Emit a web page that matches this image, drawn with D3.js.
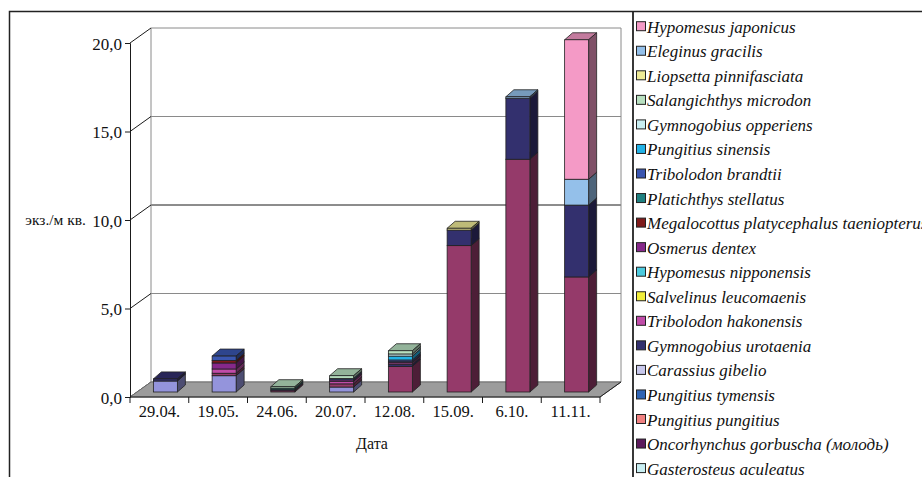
<!DOCTYPE html>
<html>
<head>
<meta charset="utf-8">
<script src="https://cdn.jsdelivr.net/npm/d3@7/dist/d3.min.js"></script>
<style>
  html, body { margin: 0; padding: 0; background: #fff; }
  svg { display: block; }
  text { font-family: "Liberation Serif", "Times New Roman", serif; fill: #111; }
</style>
</head>
<body>
<svg id="chart" width="922" height="477"></svg>
<script>
// Sampling dates
const categories = ["29.04.", "19.05.", "24.06.", "20.07.", "12.08.", "15.09.", "6.10.", "11.11."];

// Species in stacking order (bottom of each column first).
// The first two series have no legend row inside the frame.
const seriesNames = [
  null,
  null,
  "Gasterosteus aculeatus",
  "Oncorhynchus gorbuscha (молодь)",
  "Pungitius pungitius",
  "Pungitius tymensis",
  "Carassius gibelio",
  "Gymnogobius urotaenia",
  "Tribolodon hakonensis",
  "Salvelinus leucomaenis",
  "Hypomesus nipponensis",
  "Osmerus dentex",
  "Megalocottus platycephalus taeniopterus",
  "Platichthys stellatus",
  "Tribolodon brandtii",
  "Pungitius sinensis",
  "Gymnogobius opperiens",
  "Salangichthys microdon",
  "Liopsetta pinnifasciata",
  "Eleginus gracilis",
  "Hypomesus japonicus"
];

const seriesColors = [
  "#9494dc", "#953a6a", "#c8eef2", "#5c1a5c", "#f08080", "#2f64b4", "#c8c8ec",
  "#33306e", "#c04ca8", "#f2ee3a", "#4ccade", "#86288a", "#7e1a1a", "#1f8080",
  "#3a56b0", "#22b2e6", "#c8eef2", "#b8e0c0", "#eeea96", "#94c0ea", "#f49ac6"
];

// Density, ind./m², one row per species, one value per date
const seriesValues = [
  [0.62, 0.92, 0,    0.28, 0,    0,    0,     0   ],
  [0,    0.14, 0.07, 0.18, 1.45, 8.27, 13.15, 6.50],
  [0,    0,    0,    0,    0,    0,    0,     0   ],
  [0,    0,    0,    0,    0,    0,    0,     0   ],
  [0,    0,    0,    0,    0,    0,    0,     0   ],
  [0,    0,    0,    0,    0,    0,    0,     0   ],
  [0,    0,    0,    0,    0,    0,    0,     0   ],
  [0.12, 0,    0,    0,    0.12, 0.88, 3.45,  4.06],
  [0,    0.24, 0,    0.15, 0.08, 0,    0,     0   ],
  [0,    0,    0,    0,    0,    0,    0,     0   ],
  [0,    0,    0,    0,    0,    0,    0,     0   ],
  [0,    0.34, 0.06, 0.08, 0.06, 0,    0,     0   ],
  [0,    0.14, 0,    0,    0,    0,    0,     0   ],
  [0,    0,    0.09, 0,    0,    0,    0,     0   ],
  [0,    0.25, 0,    0.08, 0.10, 0,    0,     0   ],
  [0,    0,    0,    0,    0.22, 0,    0,     0   ],
  [0,    0,    0,    0,    0.12, 0,    0,     0   ],
  [0,    0,    0.08, 0.15, 0.18, 0,    0,     0   ],
  [0,    0,    0,    0,    0,    0.10, 0,     0   ],
  [0,    0,    0,    0,    0,    0,    0.08,  1.46],
  [0,    0,    0,    0,    0,    0,    0,     7.88]
];

const yTicks = [0, 5, 10, 15, 20];
const yTickLabels = ["0,0", "5,0", "10,0", "15,0", "20,0"];
const yTitle = "экз./м кв.";
const xTitle = "Дата";

// ---- layout ----
const svg = d3.select("#chart");
const plotLeft = 130, plotRight = 600, plotBottom = 397, plotTop = 43;
const wall = { dx: 21, dy: -15 };        // depth of floor / walls
const barOff = { dx: 6, dy: -5 };        // column front face inside the floor
const barDepth = { dx: 8, dy: -7 };      // column thickness
const barW = 24;

const x = d3.scaleBand().domain(categories).range([plotLeft, plotRight]).padding(0);
const y = d3.scaleLinear().domain([0, 20]).range([plotBottom, plotTop]);

// Frame and legend box edges
svg.append("path").attr("d", "M9.5,477 V11.5 H922")
  .attr("fill", "none").attr("stroke", "#222").attr("stroke-width", 1.5);
svg.append("line").attr("x1", 633).attr("x2", 633).attr("y1", 11).attr("y2", 477)
  .attr("stroke", "#222").attr("stroke-width", 1.8);

// Back wall gridlines
const g = svg.append("g");
g.selectAll("line.grid").data(yTicks).join("line")
  .attr("class", "grid")
  .attr("x1", plotLeft + wall.dx).attr("x2", plotRight + wall.dx)
  .attr("y1", d => y(d) + wall.dy).attr("y2", d => y(d) + wall.dy)
  .attr("stroke", d => d === 10 ? "#1a1a1a" : "#8a8a8a").attr("stroke-width", 1);
// Back wall side edges
[plotLeft + wall.dx, plotRight + wall.dx].forEach(xx => {
  g.append("line").attr("x1", xx).attr("x2", xx)
    .attr("y1", y(0) + wall.dy).attr("y2", y(20) + wall.dy)
    .attr("stroke", "#8a8a8a");
});
// Side wall diagonals
g.selectAll("line.diag").data(yTicks).join("line")
  .attr("class", "diag")
  .attr("x1", plotLeft).attr("y1", d => y(d))
  .attr("x2", plotLeft + wall.dx).attr("y2", d => y(d) + wall.dy)
  .attr("stroke", "#1a1a1a").attr("stroke-width", 1);

// Floor
g.append("path")
  .attr("d", `M${plotLeft},${y(0)} L${plotRight},${y(0)} L${plotRight + wall.dx},${y(0) + wall.dy} L${plotLeft + wall.dx},${y(0) + wall.dy} Z`)
  .attr("fill", "#9c9c9c").attr("stroke", "#6e6e6e").attr("stroke-width", 1);
g.append("path")
  .attr("d", `M${plotLeft},${y(0)} L${plotRight},${y(0)} L${plotRight + wall.dx},${y(0) + wall.dy}`)
  .attr("fill", "none").attr("stroke", "#222").attr("stroke-width", 1);

// Stacked data
const stackData = categories.map((c, i) => {
  const o = { cat: c };
  seriesValues.forEach((vals, s) => { o["s" + s] = vals[i]; });
  return o;
});
const keys = seriesValues.map((_, s) => "s" + s);
const stacked = d3.stack().keys(keys)(stackData);

function shade(c, k) {
  const r = d3.rgb(c);
  return d3.rgb(r.r * k, r.g * k, r.b * k).formatHex();
}

const bars = svg.append("g");
categories.forEach((cat, ci) => {
  const xl = x(cat) + x.bandwidth() / 2 - barW / 2 + barOff.dx;
  const xr = xl + barW;
  const gc = bars.append("g");
  stacked.forEach((layer, s) => {
    const [v0, v1] = layer[ci];
    if (v1 - v0 <= 0) return;
    const yb = y(v0) + barOff.dy, yt = y(v1) + barOff.dy;
    const col = seriesColors[s];
    // top face
    gc.append("path")
      .attr("d", `M${xl},${yt} L${xl + barDepth.dx},${yt + barDepth.dy} L${xr + barDepth.dx},${yt + barDepth.dy} L${xr},${yt} Z`)
      .attr("fill", shade(col, 0.8)).attr("stroke", "#222").attr("stroke-width", 0.8);
    // side face
    gc.append("path")
      .attr("d", `M${xr},${yb} L${xr + barDepth.dx},${yb + barDepth.dy} L${xr + barDepth.dx},${yt + barDepth.dy} L${xr},${yt} Z`)
      .attr("fill", shade(col, 0.52)).attr("stroke", "#222").attr("stroke-width", 0.8);
    // front face
    gc.append("rect")
      .attr("x", xl).attr("y", yt).attr("width", barW).attr("height", yb - yt)
      .attr("fill", col).attr("stroke", "#222").attr("stroke-width", 0.8);
  });
});

// Y axis (front)
const yAxis = svg.append("g").attr("transform", `translate(${plotLeft},0)`)
  .call(d3.axisLeft(y).tickValues(yTicks).tickSize(5).tickPadding(3)
    .tickFormat((d, i) => yTickLabels[i]));
yAxis.select(".domain").attr("stroke", "#1a1a1a");
yAxis.selectAll(".tick line").attr("stroke", "#1a1a1a");
yAxis.selectAll("text").attr("font-family", "Liberation Serif, Times New Roman, serif")
  .attr("font-size", 17).attr("fill", "#111").attr("dy", "0.36em");

// X axis: labels centred in each band, ticks at band boundaries
const xAxis = svg.append("g").attr("transform", `translate(0,${plotBottom})`)
  .call(d3.axisBottom(x).tickSize(0).tickPadding(8));
xAxis.select(".domain").remove();
xAxis.selectAll("text").attr("font-family", "Liberation Serif, Times New Roman, serif")
  .attr("font-size", 16.5).attr("fill", "#111").attr("dy", "0.71em");
const bounds = categories.map(c => x(c)).concat([x.range()[1]]);
svg.append("g").selectAll("line").data(bounds).join("line")
  .attr("x1", d => d).attr("x2", d => d).attr("y1", plotBottom).attr("y2", plotBottom + 6)
  .attr("stroke", "#1a1a1a");

// Axis titles
svg.append("text").attr("x", 86).attr("y", y(10) + 5).attr("text-anchor", "end")
  .attr("font-size", 15.5).text(yTitle);
svg.append("text").attr("x", 372).attr("y", 449).attr("text-anchor", "middle")
  .attr("font-size", 16).text(xTitle);

// Legend: last series on top
const legendItems = seriesNames.map((n, i) => ({ name: n, color: seriesColors[i] }))
  .filter(d => d.name !== null).reverse();
const lg = svg.append("g");
const rowH = 24.55, base0 = 32.7;
legendItems.forEach((d, i) => {
  const by = base0 + i * rowH;
  lg.append("rect").attr("x", 636.5).attr("y", by - 11).attr("width", 9).attr("height", 9)
    .attr("fill", d.color).attr("stroke", "#222").attr("stroke-width", 1);
  lg.append("text").attr("x", 647).attr("y", by)
    .attr("font-size", 17).attr("font-style", "italic").attr("letter-spacing", 0)
    .text(d.name);
});
</script>
</body>
</html>
